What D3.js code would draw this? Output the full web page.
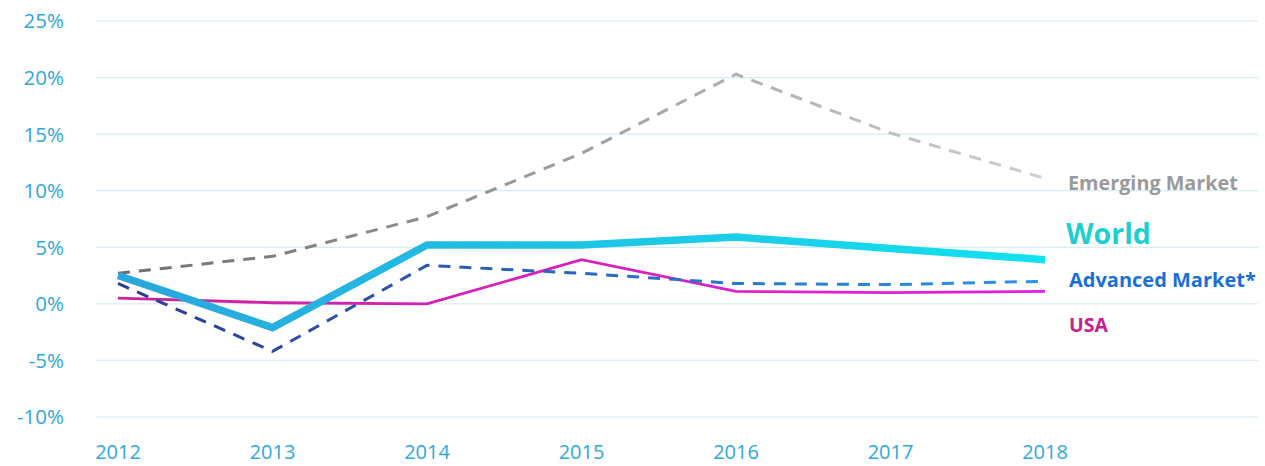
<!DOCTYPE html>
<html><head><meta charset="utf-8">
<script src="https://cdn.jsdelivr.net/npm/d3@7"></script>
<style>body{margin:0;background:#fff;}svg{display:block;font-family:"Open Sans",sans-serif;}</style>
</head><body><svg id="c" width="1265" height="466"></svg>
<script>
const years = ["2012","2013","2014","2015","2016","2017","2018"];
const yTicks = [-10,-5,0,5,10,15,20,25];
const world    = [2.5,-2.1,5.2,5.2,5.9,4.9,3.9];
const emerging = [2.7,4.2,7.7,13.3,20.3,15.1,11.1];
const advanced = [1.8,-4.2,3.4,2.7,1.8,1.7,2.0];
const usa      = [0.5,0.1,0.0,3.9,1.1,1.0,1.1];
const seriesNames = ["Emerging Market","World","Advanced Market*","USA"];

const svg = d3.select("#c");
const x = d3.scalePoint().domain(years).range([118,1045]);
const y = d3.scaleLinear().domain([-10,25]).range([417,21]);

// grid
svg.append("g").selectAll("line").data(yTicks).join("line")
  .attr("x1",96).attr("x2",1258).attr("y1",d=>y(d)).attr("y2",d=>y(d))
  .attr("stroke","#d6edf4").attr("stroke-width",1.2);

// y labels
svg.append("g").selectAll("text").data(yTicks).join("text")
  .attr("x",64).attr("y",d=>y(d)).attr("dy","0.36em").attr("text-anchor","end")
  .attr("fill","#2fa8d8").attr("font-size",20.5).attr("font-weight",500).text(d=>d+"%");

// x labels
svg.append("g").selectAll("text").data(years).join("text")
  .attr("x",d=>x(d)).attr("y",459).attr("text-anchor","middle")
  .attr("fill","#2fa8d8").attr("font-size",20).attr("font-weight",500).text(d=>d);

const defs = svg.append("defs");
function grad(id,c1,c2){
  const g = defs.append("linearGradient").attr("id",id).attr("gradientUnits","userSpaceOnUse")
    .attr("x1",x("2012")).attr("x2",x("2018")).attr("y1",0).attr("y2",0);
  g.append("stop").attr("offset","0%").attr("stop-color",c1);
  g.append("stop").attr("offset","100%").attr("stop-color",c2);
}
grad("gE","#6f6f6f","#cfcfcf");
grad("gW","#2aa6dc","#12e2ee");
grad("gA","#2a3a92","#2a96ea");
grad("gU","#cc22a0","#e41ee0");

const line = d3.line().x((d,i)=>x(years[i])).y(d=>y(d));

function draw(data,stroke,w,dash){
  svg.append("path").datum(data).attr("d",line).attr("fill","none")
    .attr("stroke",stroke).attr("stroke-width",w).attr("stroke-linejoin","miter")
    .attr("stroke-dasharray",dash||null);
}
draw(emerging,"url(#gE)",3,"12,9");
draw(usa,"url(#gU)",2.8);
draw(advanced,"url(#gA)",3,"12,9");
draw(world,"url(#gW)",7.5);

// labels
const lab = [
  {t:seriesNames[0],x:1068,y:183,c:"#9a9a9a",s:19.8},
  {t:seriesNames[1],x:1066,y:234,c:"#1fcfd0",s:28.5},
  {t:seriesNames[2],x:1069,y:280,c:"#1a6fd6",s:20},
  {t:seriesNames[3],x:1069,y:325,c:"#c42090",s:19.5}
];
svg.append("g").selectAll("text").data(lab).join("text")
  .attr("x",d=>d.x).attr("y",d=>d.y).attr("dy","0.36em").attr("fill",d=>d.c)
  .attr("font-size",d=>d.s).attr("font-weight",700).text(d=>d.t);
</script></body></html>
